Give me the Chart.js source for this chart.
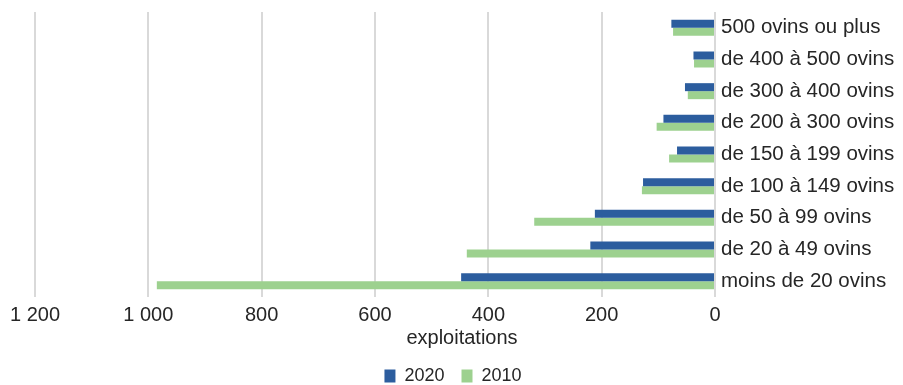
<!DOCTYPE html>
<html lang="fr">
<head>
<meta charset="utf-8">
<script src="https://cdn.jsdelivr.net/npm/chart.js@4/dist/chart.umd.min.js"></script>
<style>
  html, body { margin: 0; padding: 0; background: #fff; }
  #wrap { width: 903px; height: 385px; position: relative; }
</style>
</head>
<body>
<div id="wrap"><canvas id="c"></canvas></div>
<script>
// Tranches de taille des troupeaux (de haut en bas)
const categories = [
  "500 ovins ou plus",
  "de 400 à 500 ovins",
  "de 300 à 400 ovins",
  "de 200 à 300 ovins",
  "de 150 à 199 ovins",
  "de 100 à 149 ovins",
  "de 50 à 99 ovins",
  "de 20 à 49 ovins",
  "moins de 20 ovins"
];

// Nombre d'exploitations par tranche
const exploitations2020 = [77, 38, 53, 91, 67, 127, 212, 220, 448];
const exploitations2010 = [74, 37, 48, 103, 81, 129, 319, 438, 985];

const seriesNames = ["2020", "2010"];
const axisTitle = "exploitations";
const xTicks = [0, 200, 400, 600, 800, 1000, 1200];

const textColor = "#262626";
const fontFamily = "'Liberation Sans', Arial, sans-serif";

function formatThousands(v) {
  return String(v).replace(/\B(?=(\d{3})+(?!\d))/g, " ");
}

// Titre de l'axe horizontal, centré sous le graphique et ses libellés
const axisTitlePlugin = {
  id: "axisTitle",
  afterDraw(chart) {
    const { ctx, chartArea } = chart;
    ctx.save();
    ctx.fillStyle = textColor;
    ctx.font = "20px " + fontFamily;
    ctx.textAlign = "center";
    ctx.textBaseline = "middle";
    ctx.fillText(axisTitle, 462, chartArea.bottom + 41);
    ctx.restore();
  }
};

new Chart(document.getElementById("c"), {
  type: "bar",
  data: {
    labels: categories,
    datasets: [
      {
        label: seriesNames[0],
        data: exploitations2020,
        backgroundColor: "#2c5d9e",
        categoryPercentage: 0.505,
        barPercentage: 1.0
      },
      {
        label: seriesNames[1],
        data: exploitations2010,
        backgroundColor: "#9dd18f",
        categoryPercentage: 0.505,
        barPercentage: 1.0
      }
    ]
  },
  options: {
    indexAxis: "y",
    responsive: true,
    maintainAspectRatio: false,
    animation: false,
    layout: { padding: { top: 12, left: 5, right: 2, bottom: -10 } },
    scales: {
      x: {
        reverse: true,
        min: 0,
        max: 1200,
        afterBuildTicks: (axis) => { axis.ticks = xTicks.map(v => ({ value: v })); },
        afterFit: (axis) => {
          axis.height = 53;
          axis.paddingLeft = 35;
        },
        grid: { color: "#d9d9d9", lineWidth: 2, drawTicks: false },
        border: { display: false },
        ticks: {
          padding: 6,
          color: textColor,
          font: { family: fontFamily, size: 20 },
          maxRotation: 0,
          callback: (v) => formatThousands(v)
        }
      },
      y: {
        position: "right",
        grid: { display: false, drawTicks: false },
        border: { display: false },
        afterFit: (axis) => {
          axis.width = 186;
          axis.paddingTop = 0;
          axis.paddingBottom = 0;
        },
        ticks: {
          padding: 6,
          color: textColor,
          font: { family: fontFamily, size: 20.5 }
        }
      }
    },
    plugins: {
      legend: {
        position: "bottom",
        labels: {
          boxWidth: 11,
          boxHeight: 13,
          padding: 17,
          color: textColor,
          font: { family: fontFamily, size: 18 }
        }
      },
      tooltip: { enabled: false }
    }
  },
  plugins: [axisTitlePlugin]
});
</script>
</body>
</html>
